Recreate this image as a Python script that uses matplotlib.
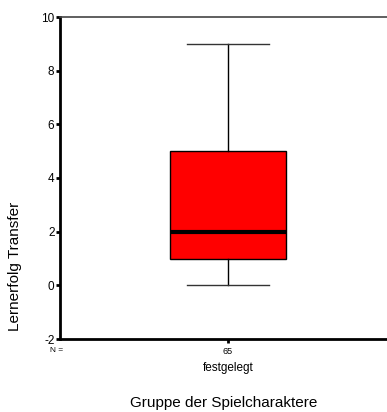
import matplotlib
matplotlib.use("Agg")
import matplotlib.pyplot as plt

# Summary statistics for the single group
groups = ["festgelegt"]
counts = [65]
medians = [2]
q1s = [1]
q3s = [5]
whisker_lows = [0]
whisker_highs = [9]
y_ticks = [-2, 0, 2, 4, 6, 8, 10]

plt.rcParams["font.family"] = ["Liberation Sans", "DejaVu Sans"]

fig = plt.figure(figsize=(3.87, 4.12), dpi=100)
ax = fig.add_axes([60 / 387, 73 / 412, 336 / 387, 322 / 412])

stats = []
for g, med, q1, q3, lo, hi in zip(groups, medians, q1s, q3s, whisker_lows, whisker_highs):
    stats.append(dict(label=g, med=med, q1=q1, q3=q3, whislo=lo, whishi=hi, fliers=[]))

positions = list(range(1, len(groups) + 1))
ax.bxp(stats, positions=positions, widths=0.348, capwidths=0.247,
       patch_artist=True, showfliers=False,
       boxprops=dict(facecolor="#ff0000", edgecolor="black", linewidth=1.0),
       medianprops=dict(color="black", linewidth=3.0, solid_capstyle="butt"),
       whiskerprops=dict(color="black", linewidth=1.0),
       capprops=dict(color="#333333", linewidth=1.0))

ax.set_xlim(0.5, 1.5)
ax.set_ylim(-2, 10)
ax.set_yticks(y_ticks)
ax.set_yticklabels([str(t) for t in y_ticks], fontsize=8.5)
ax.set_xticks(positions)
ax.set_xticklabels([str(c) for c in counts], fontsize=6.5)

ax.spines["left"].set_linewidth(2.0)
ax.spines["bottom"].set_linewidth(2.0)
ax.spines["top"].set_linewidth(1.2)
ax.spines["top"].set_color("#444444")
ax.spines["right"].set_visible(False)
ax.tick_params(axis="y", direction="out", length=3, width=2, pad=1)
ax.tick_params(axis="x", direction="out", length=3, width=2, pad=3)

# group names and count header under the axis
for p, g in zip(positions, groups):
    ax.text(p, -0.09, g, transform=ax.get_xaxis_transform(), ha="center", va="center", fontsize=8.5)
fig.text(57 / 387, 1 - 351 / 412, "N =", ha="center", va="center", fontsize=6)

fig.text(224 / 387, 1 - 403 / 412, "Gruppe der Spielcharaktere", ha="center", va="center", fontsize=11)
fig.text(15 / 387, 1 - 266 / 412, "Lernerfolg Transfer", ha="center", va="center", rotation=90, fontsize=11)

fig.savefig("out.png", dpi=100)
